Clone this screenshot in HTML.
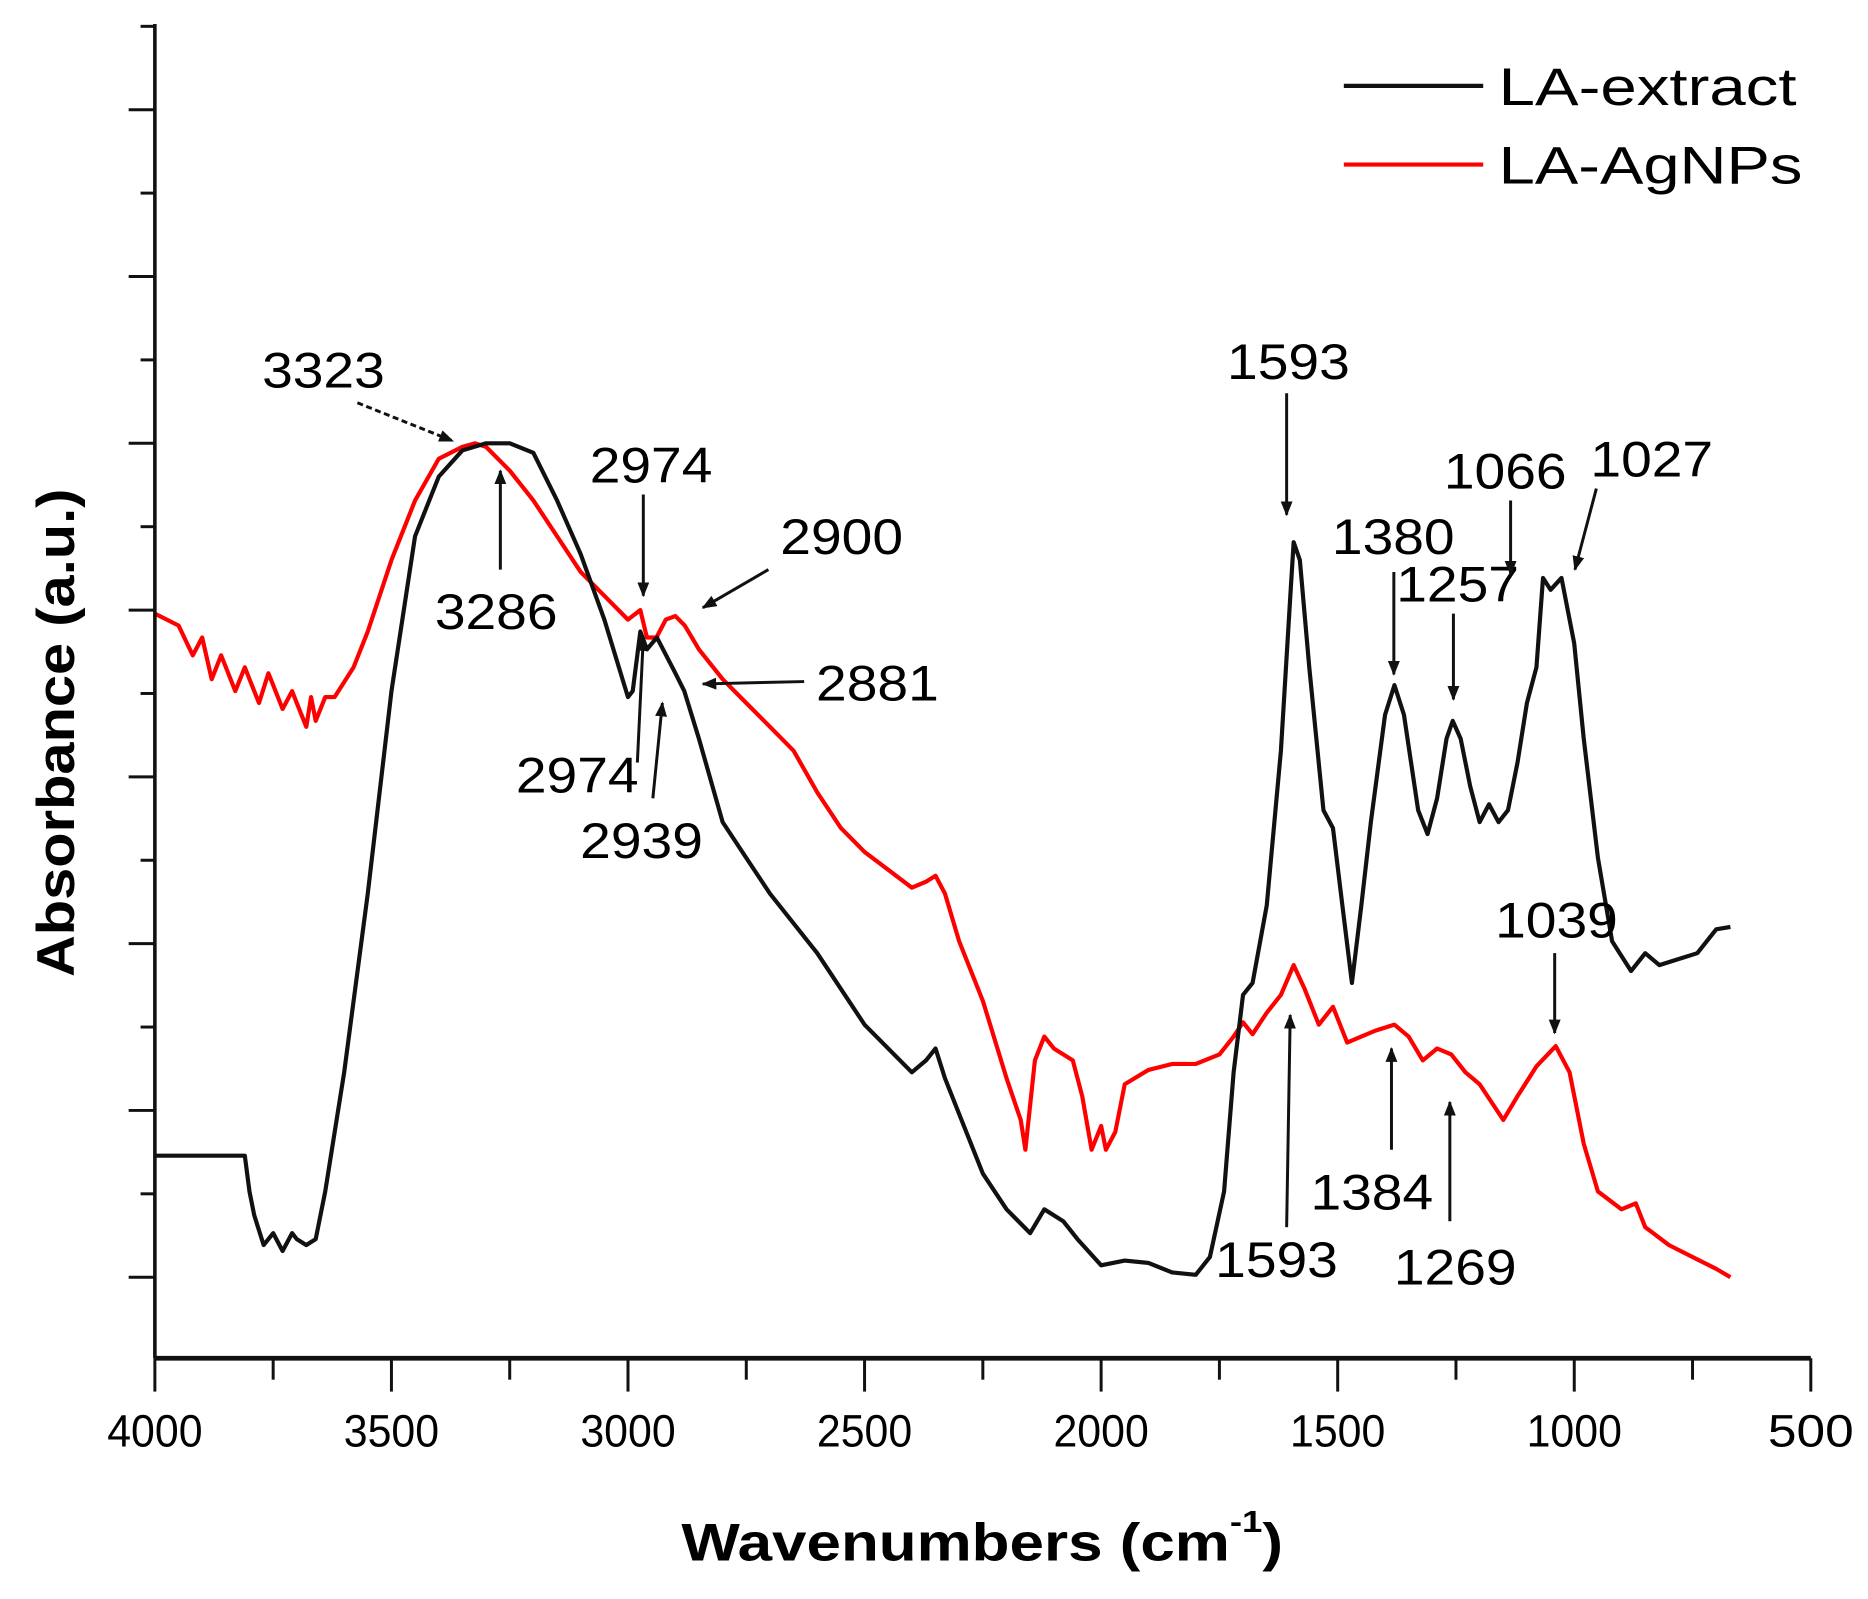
<!DOCTYPE html>
<html><head><meta charset="utf-8"><style>
html,body{margin:0;padding:0;background:#fff;}
svg{display:block;font-family:"Liberation Sans",Arial,sans-serif;}
</style></head><body>
<svg id="chart" width="1868" height="1599" viewBox="0 0 1568 1342" xmlns="http://www.w3.org/2000/svg">
<defs>
<marker id="ah" viewBox="0 0 10 10" refX="9" refY="5" markerWidth="5" markerHeight="5" orient="auto-start-reverse"><path d="M0,1 L10,5 L0,9 z" fill="#111"/></marker>
</defs>
<g id="plot"></g>
<g id="axes"></g>
<g id="annot"></g>
<text x="572" y="1310" font-size="44" font-weight="bold" textLength="505" lengthAdjust="spacingAndGlyphs">Wavenumbers (cm<tspan font-size="26" dy="-24">-1</tspan><tspan dy="24">)</tspan></text>
<text transform="translate(62,820) rotate(-90)" font-size="44" font-weight="bold" textLength="410" lengthAdjust="spacingAndGlyphs">Absorbance (a.u.)</text>
<g>
<line x1="1128" y1="72" x2="1245" y2="72" stroke="#111" stroke-width="3.5"/>
<text x="1258" y="88" font-size="44" textLength="250" lengthAdjust="spacingAndGlyphs">LA-extract</text>
<line x1="1128" y1="138" x2="1245" y2="138" stroke="#f00" stroke-width="3.5"/>
<text x="1258" y="154" font-size="44" textLength="255" lengthAdjust="spacingAndGlyphs">LA-AgNPs</text>
</g>
</svg>
<script>
// Data (wavenumber cm-1, absorbance a.u. on arbitrary 0-112 scale)
const xTicks = [4000,3500,3000,2500,2000,1500,1000,500];
const extractX = [4000,3810,3800,3790,3770,3750,3730,3710,3700,3680,3660,3640,3600,3550,3500,3450,3400,3350,3300,3250,3200,3150,3100,3050,3000,2990,2974,2960,2939,2900,2881,2850,2800,2750,2700,2600,2500,2400,2370,2350,2330,2300,2250,2200,2150,2120,2080,2050,2000,1950,1900,1850,1800,1770,1740,1720,1700,1680,1650,1620,1600,1593,1580,1560,1530,1510,1490,1470,1450,1430,1400,1380,1360,1330,1310,1290,1270,1257,1240,1220,1200,1180,1160,1140,1120,1100,1080,1066,1050,1027,1000,980,950,920,880,850,820,780,740,700,670];
const extractY = [17,17,14,12,9.5,10.5,9,10.5,10,9.5,10,14,24,39,56,69,74,76.2,76.8,76.8,76,72,67.5,62,55.5,56,61,59.5,60.5,57.5,56,52,45,42,39,34,28,24,25,26,23.5,20.5,15.5,12.5,10.5,12.5,11.5,10,7.8,8.2,8,7.2,7,8.5,14,24,30.5,31.5,38,51,64,68.5,67,58,46,44.5,38,31.5,38,45,54,56.5,54,46,44,47,52,53.5,52,48,45,46.5,45,46,50,55,58,65.5,64.5,65.5,60,52,42,35,32.5,34,33,33.5,34,36,36.2];
const agX = [4000,3950,3920,3900,3880,3860,3850,3830,3810,3800,3780,3760,3750,3730,3710,3700,3680,3670,3660,3640,3620,3580,3550,3500,3450,3400,3350,3323,3300,3250,3200,3150,3100,3050,3000,2974,2960,2940,2920,2900,2880,2850,2800,2750,2700,2650,2600,2550,2500,2450,2400,2370,2350,2330,2300,2250,2200,2170,2160,2140,2120,2100,2060,2040,2020,2000,1990,1970,1950,1900,1850,1800,1750,1720,1700,1680,1650,1620,1593,1570,1540,1510,1480,1450,1420,1380,1350,1320,1290,1260,1230,1200,1150,1120,1080,1039,1010,980,950,900,870,850,800,750,700,670];
const agY = [62.5,61.5,59,60.5,57,59,58,56,58,57,55,57.5,56.5,54.5,56,55,53,55.5,53.5,55.5,55.5,58,61,67,72,75.5,76.5,76.8,76.5,74.5,72,69,66,64,62,62.8,60.5,60.5,62,62.3,61.5,59.5,57,55,53,51,47.5,44.5,42.5,41,39.5,40,40.5,39,35,30,23.5,20,17.5,25,27,26,25,22,17.5,19.5,17.5,19,23,24.2,24.7,24.7,25.5,27,28.2,27.2,29,30.5,33,31,28,29.5,26.5,27,27.5,28,27,25,26,25.5,24,23,20,22,24.5,26.2,24,18,14,12.5,13,11,9.5,8.5,7.5,6.8];
const xTitleTicks = xTicks.map(String);

const X0=130, X1=1520, Y0=1140, YS=10;
const sx = w => X0 + (4000 - w) / 3500 * (X1 - X0);
const sy = v => Y0 - v * YS;
const NS="http://www.w3.org/2000/svg";
function mk(tag, attrs, parent){const e=document.createElementNS(NS,tag);for(const k in attrs)e.setAttribute(k,attrs[k]);parent.appendChild(e);return e;}

const plot=document.getElementById('plot');
function series(xs, ys, color, name){
  const d = xs.map((x,i)=>(i?'L':'M')+sx(x).toFixed(1)+','+sy(ys[i]).toFixed(1)).join(' ');
  const p = mk('path',{d:d,fill:'none',stroke:color,'stroke-width':3.5,'stroke-linejoin':'round'},plot);
  
  
}
series(agX, agY, '#f00', 'series-la-agnps');
series(extractX, extractY, '#111', 'series-la-extract');

const axes=document.getElementById('axes');
const xa = mk('line',{x1:X0,y1:Y0,x2:X1,y2:Y0,stroke:'#111','stroke-width':4},axes);


const ya = mk('line',{x1:X0,y1:20,x2:X0,y2:Y0,stroke:'#111','stroke-width':3},axes);


xTicks.forEach((t,i)=>{
  mk('line',{x1:sx(t),y1:Y0,x2:sx(t),y2:Y0+28,stroke:'#111','stroke-width':2.5},axes);
  if(i<xTicks.length-1) mk('line',{x1:sx(t-250),y1:Y0,x2:sx(t-250),y2:Y0+18,stroke:'#111','stroke-width':2.5},axes);
  const lb = mk('text',{x:sx(t)-(t===500?36:40),y:Y0+74,'font-size':38,textLength:(t===500?72:80),lengthAdjust:'spacingAndGlyphs'},axes);
  lb.textContent = xTitleTicks[i];
  
  
});
for(let y=Y0-68; y>=20; y-=70){
  const major = Math.round((Y0-68-y)/70)%2===0;
  mk('line',{x1:X0,y1:y,x2:X0-(major?22:12),y2:y,stroke:'#111','stroke-width':2.5},axes);
}

const an=document.getElementById('annot');
const labels=[
 ['3323',220,325,[300,338,380,370],true],
 ['3286',365,528,[420,478,420,395]],
 ['2974',495,405,[540,415,540,500]],
 ['2900',655,465,[645,478,590,510]],
 ['2881',685,588,[675,572,590,574]],
 ['2974',433,665,[535,640,540,535]],
 ['2939',487,720,[548,670,556,590]],
 ['1593',1030,318,[1080,330,1080,432]],
 ['1380',1118,465,[1170,480,1170,566]],
 ['1257',1172,505,[1220,515,1220,587]],
 ['1066',1212,410,[1268,420,1268,482]],
 ['1027',1335,400,[1340,410,1322,478]],
 ['1039',1255,787,[1305,800,1305,867]],
 ['1593',1020,1072,[1080,1030,1083,852]],
 ['1384',1100,1015,[1168,965,1168,880]],
 ['1269',1170,1078,[1217,1025,1217,925]]
];
labels.forEach(l=>{
  const t=mk('text',{x:l[1],y:l[2],'font-size':42,textLength:103,lengthAdjust:'spacingAndGlyphs'},an);
  t.textContent=l[0];
  
  
  const a=l[3];
  const attrs={x1:a[0],y1:a[1],x2:a[2],y2:a[3],stroke:'#111','stroke-width':2.5,'marker-end':'url(#ah)'};
  if(l[4]) attrs['stroke-dasharray']='5,3';
  const ar=mk('line',attrs,an);
  
  
});
</script>
</body></html>
